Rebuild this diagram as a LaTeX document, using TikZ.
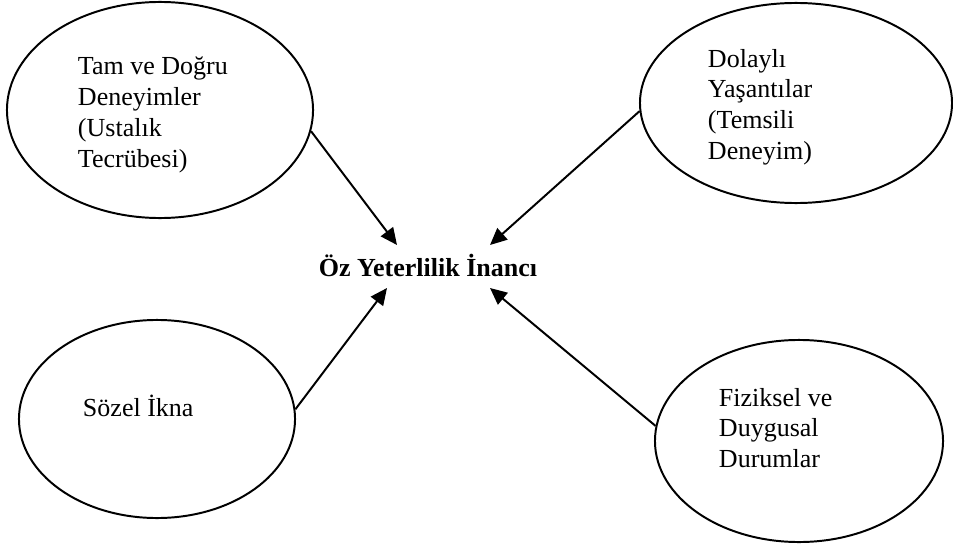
\documentclass[tikz,border=0pt]{standalone}
\usepackage{fontspec}
\setmainfont{Liberation Serif}
\usetikzlibrary{positioning,shapes.geometric,arrows.meta,calc}

\begin{document}
\begin{tikzpicture}[x=0.025cm, y=-0.025cm, line width=1.4pt,
        bubble/.style={ellipse, draw=black, inner sep=0pt},
        txt/.style={anchor=north west, align=left, inner sep=0pt, font=\fontsize{18.5}{22}\selectfont},
        arr/.style={-{Triangle[length=0.42cm, width=0.38cm]}}]
        \useasboundingbox (0,0) rectangle (953,545);
        \node[bubble, minimum width=7.65cm, minimum height=5.4cm] (tam) at (160,110) {};
        \node[bubble, minimum width=7.8cm, minimum height=5cm] (dol) at (796,103) {};
        \node[bubble, minimum width=6.9cm, minimum height=4.95cm] (soz) at (157,419) {};
        \node[bubble, minimum width=7.2cm, minimum height=5.05cm] (fiz) at (799,441) {};
        \node[font=\fontsize{18.5}{22}\selectfont\bfseries, inner sep=0pt] (core) at (428,265) {Öz Yeterlilik İnancı};

        \node[txt] (tamtxt) at (77,56) {Tam ve Doğru\\Deneyimler\\(Ustalık\\Tecrübesi)};
        \node[txt] (doltxt) at (707,48) {Dolaylı\\Yaşantılar\\(Temsili\\Deneyim)};
        \node[txt] (soztxt) at (82,394) {Sözel İkna};
        \node[txt] (fiztxt) at (718,387) {Fiziksel ve\\Duygusal\\Durumlar};

        \draw[arr] (tam.-8) -- ($(core)+(-31,-20)$);
        \draw[arr] (dol.183) -- ($(core)+(62,-20)$);
        \draw[arr] (soz.4) -- ($(core)+(-41,23)$);
        \draw[arr] (fiz.174) -- ($(core)+(62,23)$);
\end{tikzpicture}
\end{document}
